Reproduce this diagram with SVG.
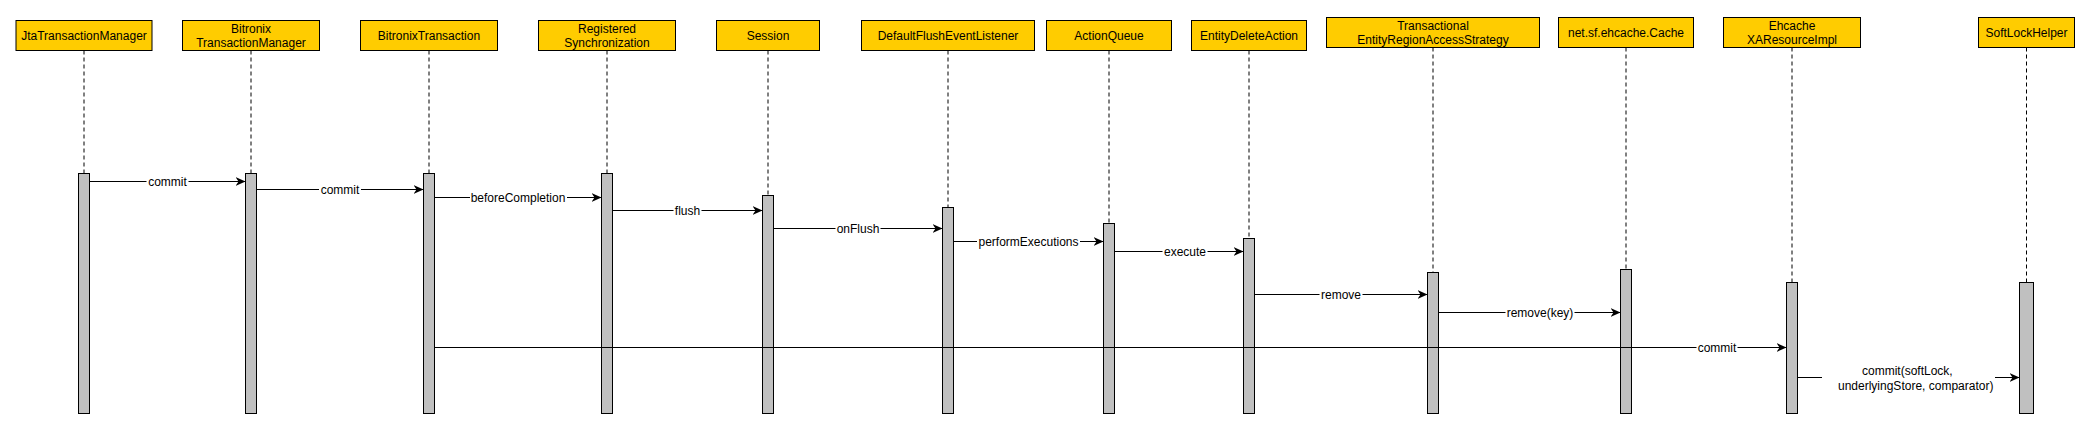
<svg xmlns="http://www.w3.org/2000/svg" width="2090" height="429" viewBox="0 0 2090 429">
<style>
.box{fill:#FFCC00;stroke:#000;stroke-width:1}
.bar{fill:#C0C0C0;stroke:#000;stroke-width:1}
.life{stroke:#000;stroke-width:1;stroke-dasharray:4 3;fill:none}
.t{font-family:"Liberation Sans",Arial,Helvetica,sans-serif;font-size:12px;fill:#000;text-anchor:middle}
.ts{font-family:"Liberation Sans",Arial,Helvetica,sans-serif;font-size:12px;fill:#000}
.msg{stroke:#000;stroke-width:1;fill:none;marker-end:url(#arr)}
.lb{fill:#fff}
</style>
<defs>
<marker id="arr" viewBox="0 0 10 9" refX="10" refY="4.5" markerWidth="10" markerHeight="9" orient="auto" markerUnits="userSpaceOnUse">
<path d="M0,0 L10,4.5 L0,9 L3,4.5 Z" fill="#000"/>
</marker>
</defs>
<rect width="2090" height="429" fill="#fff"/>

<g id="JtaTransactionManager">
<rect class="box" x="16" y="20.5" width="136" height="30"/>
<text class="t" x="84" y="40">JtaTransactionManager</text>
<line class="life" x1="84" y1="50.5" x2="84" y2="173.5"/>
<rect class="bar" x="78.5" y="173.5" width="11" height="240"/>
</g>
<g id="BitronixTransactionManager">
<rect class="box" x="182.5" y="20.5" width="137" height="30"/>
<text class="t" x="251" y="33">Bitronix</text>
<text class="t" x="251" y="47">TransactionManager</text>
<line class="life" x1="251" y1="50.5" x2="251" y2="173.5"/>
<rect class="bar" x="245.5" y="173.5" width="11" height="240"/>
</g>
<g id="BitronixTransaction">
<rect class="box" x="360.5" y="20.5" width="137" height="30"/>
<text class="t" x="429" y="40">BitronixTransaction</text>
<line class="life" x1="429" y1="50.5" x2="429" y2="173.5"/>
<rect class="bar" x="423.5" y="173.5" width="11" height="240"/>
</g>
<g id="RegisteredSynchronization">
<rect class="box" x="538.5" y="20.5" width="137" height="30"/>
<text class="t" x="607" y="33">Registered</text>
<text class="t" x="607" y="47">Synchronization</text>
<line class="life" x1="607" y1="50.5" x2="607" y2="173.5"/>
<rect class="bar" x="601.5" y="173.5" width="11" height="240"/>
</g>
<g id="Session">
<rect class="box" x="716.5" y="20.5" width="103" height="30"/>
<text class="t" x="768" y="40">Session</text>
<line class="life" x1="768" y1="50.5" x2="768" y2="195.5"/>
<rect class="bar" x="762.5" y="195.5" width="11" height="218"/>
</g>
<g id="DefaultFlushEventListener">
<rect class="box" x="861.5" y="20.5" width="173" height="30"/>
<text class="t" x="948" y="40">DefaultFlushEventListener</text>
<line class="life" x1="948" y1="50.5" x2="948" y2="207.5"/>
<rect class="bar" x="942.5" y="207.5" width="11" height="206"/>
</g>
<g id="ActionQueue">
<rect class="box" x="1046.5" y="20.5" width="125" height="30"/>
<text class="t" x="1109" y="40">ActionQueue</text>
<line class="life" x1="1109" y1="50.5" x2="1109" y2="223.5"/>
<rect class="bar" x="1103.5" y="223.5" width="11" height="190"/>
</g>
<g id="EntityDeleteAction">
<rect class="box" x="1191.5" y="20.5" width="115" height="30"/>
<text class="t" x="1249" y="40">EntityDeleteAction</text>
<line class="life" x1="1249" y1="50.5" x2="1249" y2="238.5"/>
<rect class="bar" x="1243.5" y="238.5" width="11" height="175"/>
</g>
<g id="TransactionalEntityRegionAccessStrategy">
<rect class="box" x="1326.5" y="17.5" width="213" height="30"/>
<text class="t" x="1433" y="30">Transactional</text>
<text class="t" x="1433" y="44">EntityRegionAccessStrategy</text>
<line class="life" x1="1433" y1="47.5" x2="1433" y2="272.5"/>
<rect class="bar" x="1427.5" y="272.5" width="11" height="141"/>
</g>
<g id="EhcacheCache">
<rect class="box" x="1558.5" y="17.5" width="135" height="30"/>
<text class="t" x="1626" y="37">net.sf.ehcache.Cache</text>
<line class="life" x1="1626" y1="47.5" x2="1626" y2="269.5"/>
<rect class="bar" x="1620.5" y="269.5" width="11" height="144"/>
</g>
<g id="EhcacheXAResourceImpl">
<rect class="box" x="1723.5" y="17.5" width="137" height="30"/>
<text class="t" x="1792" y="30">Ehcache</text>
<text class="t" x="1792" y="44">XAResourceImpl</text>
<line class="life" x1="1792" y1="47.5" x2="1792" y2="282.5"/>
<rect class="bar" x="1786.5" y="282.5" width="11" height="131"/>
</g>
<g id="SoftLockHelper">
<rect class="box" x="1978.5" y="17.5" width="96" height="30"/>
<text class="t" x="2026.5" y="37">SoftLockHelper</text>
<line class="life" x1="2026.5" y1="47.5" x2="2026.5" y2="282.5"/>
<rect class="bar" x="2019.5" y="282.5" width="14" height="131"/>
</g>

<g id="connectors">
<line class="msg" x1="89.5" y1="181.5" x2="245.5" y2="181.5"/>
<rect class="lb" x="146.5" y="175" width="42" height="13"/>
<text class="t" x="167.5" y="185.5">commit</text>

<line class="msg" x1="256.5" y1="189.5" x2="423.5" y2="189.5"/>
<rect class="lb" x="319" y="183" width="42" height="13"/>
<text class="t" x="340" y="193.5">commit</text>

<line class="msg" x1="434.5" y1="197.5" x2="601.5" y2="197.5"/>
<rect class="lb" x="470" y="191" width="97" height="13"/>
<text class="t" x="518" y="201.5">beforeCompletion</text>

<line class="msg" x1="612.5" y1="210.5" x2="762.5" y2="210.5"/>
<rect class="lb" x="673.5" y="204" width="28" height="13"/>
<text class="t" x="687.5" y="214.5">flush</text>

<line class="msg" x1="773.5" y1="228.5" x2="942.5" y2="228.5"/>
<rect class="lb" x="835.5" y="222" width="45" height="13"/>
<text class="t" x="858" y="232.5">onFlush</text>

<line class="msg" x1="953.5" y1="241.5" x2="1103.5" y2="241.5"/>
<rect class="lb" x="977" y="235" width="103" height="13"/>
<text class="t" x="1028.5" y="245.5">performExecutions</text>

<line class="msg" x1="1114.5" y1="251.5" x2="1243.5" y2="251.5"/>
<rect class="lb" x="1162.5" y="245" width="45" height="13"/>
<text class="t" x="1185" y="255.5">execute</text>

<line class="msg" x1="1254.5" y1="294.5" x2="1427.5" y2="294.5"/>
<rect class="lb" x="1319.5" y="288" width="43" height="13"/>
<text class="t" x="1341" y="298.5">remove</text>

<line class="msg" x1="1438.5" y1="312.5" x2="1620.5" y2="312.5"/>
<rect class="lb" x="1505.5" y="306" width="69" height="13"/>
<text class="t" x="1540" y="316.5">remove(key)</text>

<line class="msg" x1="434.5" y1="347.5" x2="1786.5" y2="347.5"/>
<rect class="lb" x="1696.5" y="341" width="41" height="13"/>
<text class="t" x="1717" y="351.5">commit</text>

<line class="msg" x1="1797.5" y1="377.5" x2="2019.5" y2="377.5"/>
<rect class="lb" x="1822" y="364" width="173" height="30"/>
<text class="ts" x="1862" y="374.5">commit(softLock,</text>
<text class="ts" x="1838" y="389.5">underlyingStore, comparator)</text>
</g>
</svg>
